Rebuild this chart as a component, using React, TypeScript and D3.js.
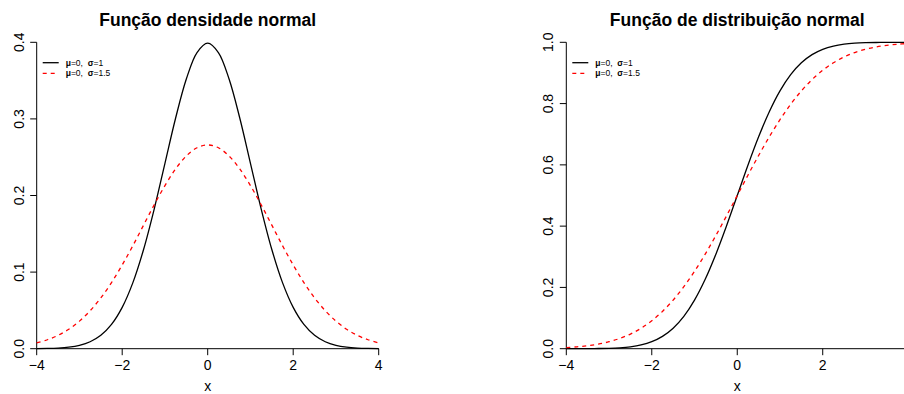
import React from "react";
import * as d3 from "d3";

const xs = [-4, -3.75, -3.5, -3.25, -3, -2.75, -2.5, -2.25, -2, -1.75, -1.5, -1.25, -1, -0.75, -0.5, -0.25, 0,
  0.25, 0.5, 0.75, 1, 1.25, 1.5, 1.75, 2, 2.25, 2.5, 2.75, 3, 3.25, 3.5, 3.75, 4];

const dens1 = [0.00013, 0.00035, 0.00087, 0.00203, 0.00443, 0.00909, 0.01753, 0.03174, 0.05399, 0.08628, 0.12952,
  0.18265, 0.24197, 0.30114, 0.35207, 0.38667, 0.39894, 0.38667, 0.35207, 0.30114, 0.24197, 0.18265, 0.12952,
  0.08628, 0.05399, 0.03174, 0.01753, 0.00909, 0.00443, 0.00203, 0.00087, 0.00035, 0.00013];
const dens15 = [0.0076, 0.01169, 0.01741, 0.02538, 0.03599, 0.04962, 0.06631, 0.08635, 0.10934, 0.13455, 0.16131,
  0.18799, 0.21297, 0.23471, 0.25159, 0.26229, 0.26596, 0.26229, 0.25159, 0.23471, 0.21297, 0.18799, 0.16131,
  0.13455, 0.10934, 0.08635, 0.06631, 0.04962, 0.03599, 0.02538, 0.01741, 0.01169, 0.0076];
const cdf1 = [0.00003, 0.00009, 0.00023, 0.00058, 0.00135, 0.00298, 0.00621, 0.01222, 0.02275, 0.04006, 0.06681,
  0.10565, 0.15866, 0.22663, 0.30854, 0.40129, 0.5, 0.59871, 0.69146, 0.77337, 0.84134, 0.89435, 0.93319,
  0.95994, 0.97725, 0.98778, 0.99379, 0.99702, 0.99865, 0.99942, 0.99977, 0.99991, 0.99997];
const cdf15 = [0.00383, 0.00621, 0.00982, 0.01513, 0.02275, 0.03338, 0.04779, 0.06681, 0.09121, 0.12167, 0.15866,
  0.20233, 0.25249, 0.30854, 0.36944, 0.4338, 0.5, 0.5662, 0.63056, 0.69146, 0.74751, 0.79767, 0.84134,
  0.87833, 0.90879, 0.93319, 0.95221, 0.96662, 0.97725, 0.98487, 0.99018, 0.99379, 0.99617];

const xTicksLeft = [-4, -2, 0, 2, 4];
const xTicksRight = [-4, -2, 0, 2];
const yTicksLeft = [0, 0.1, 0.2, 0.3, 0.4];
const yTicksRight = [0, 0.2, 0.4, 0.6, 0.8, 1.0];
const legendSigmas = ["1", "1.5"];
const titles = ["Função densidade normal", "Função de distribuição normal"];

const FONT = "'Liberation Sans', Arial, Helvetica, sans-serif";

type PanelProps = {
  x0: number; x1: number; y0: number; y1: number;
  yMax: number; yTicks: number[]; xTicks: number[];
  s1: number[]; s2: number[]; title: string; yFmt: (v: number) => string;
};

function Panel({ x0, x1, y0, y1, yMax, yTicks, xTicks, s1, s2, title, yFmt }: PanelProps) {
  const x = d3.scaleLinear().domain([-4, 4]).range([x0, x1]);
  const y = d3.scaleLinear().domain([0, yMax]).range([y0, y1]);
  const line = d3.line<number>().x((_, i) => x(xs[i])).y((d) => y(d)).curve(d3.curveCatmullRom.alpha(0.5));
  const cx = x(0);
  const tl = 6.5;
  const legY = [62.7, 73.3];
  return (
    <g>
      <text x={cx} y={25.5} textAnchor="middle" fontWeight="bold" fontSize={17.5} fontFamily={FONT}>{title}</text>
      <line x1={x0} x2={x0} y1={y(0)} y2={y(yMax)} stroke="#000" strokeWidth={1} />
      {yTicks.map((t) => (
        <g key={t}>
          <line x1={x0 - tl} x2={x0} y1={y(t)} y2={y(t)} stroke="#000" strokeWidth={1} />
          <text transform={`translate(${x0 - 13},${y(t)}) rotate(-90)`} textAnchor="middle" fontSize={14} fontFamily={FONT}>{yFmt(t)}</text>
        </g>
      ))}
      <line x1={x(-4)} x2={x(4)} y1={y0} y2={y0} stroke="#000" strokeWidth={1} />
      {xTicks.map((t) => (
        <g key={t}>
          <line x1={x(t)} x2={x(t)} y1={y0} y2={y0 + tl} stroke="#000" strokeWidth={1} />
          <text x={x(t)} y={370} textAnchor="middle" fontSize={14} fontFamily={FONT}>{t < 0 ? "\u2212" + Math.abs(t) : String(t)}</text>
        </g>
      ))}
      <text x={cx} y={391} textAnchor="middle" fontSize={14} fontFamily={FONT}>x</text>
      <path d={line(s1) || ""} fill="none" stroke="#000" strokeWidth={1.3} />
      <path d={line(s2) || ""} fill="none" stroke="#ff0000" strokeWidth={1.3} strokeDasharray="4,4" />
      {legendSigmas.map((s, i) => (
        <g key={s}>
          <line x1={x0 + 6} x2={x0 + 22} y1={legY[i]} y2={legY[i]} stroke={i === 0 ? "#000" : "#ff0000"} strokeWidth={1.3}
            strokeDasharray={i === 0 ? undefined : "4,4"} />
          <text x={x0 + 29} y={legY[i] + 3.1} fontSize={8.5} fontFamily={FONT} style={{ whiteSpace: "pre" }}>
            <tspan fontWeight="bold">μ</tspan>{"=0,  "}<tspan fontWeight="bold">σ</tspan>{"=" + s}
          </text>
        </g>
      ))}
    </g>
  );
}

export default function App() {
  return (
    <svg width={904} height={394} style={{ position: "fixed", left: 0, top: 0, background: "#fff" }}>
      <rect width={904} height={394} fill="#fff" />
      <Panel x0={36.7} x1={378.7} y0={348.7} y1={42.3} yMax={0.4} yTicks={yTicksLeft} xTicks={xTicksLeft}
        s1={dens1} s2={dens15} title={titles[0]} yFmt={(v) => v.toFixed(1)} />
      <Panel x0={566.3} x1={908.2} y0={348.7} y1={42.3} yMax={1.0} yTicks={yTicksRight} xTicks={xTicksRight}
        s1={cdf1} s2={cdf15} title={titles[1]} yFmt={(v) => v.toFixed(1)} />
    </svg>
  );
}
